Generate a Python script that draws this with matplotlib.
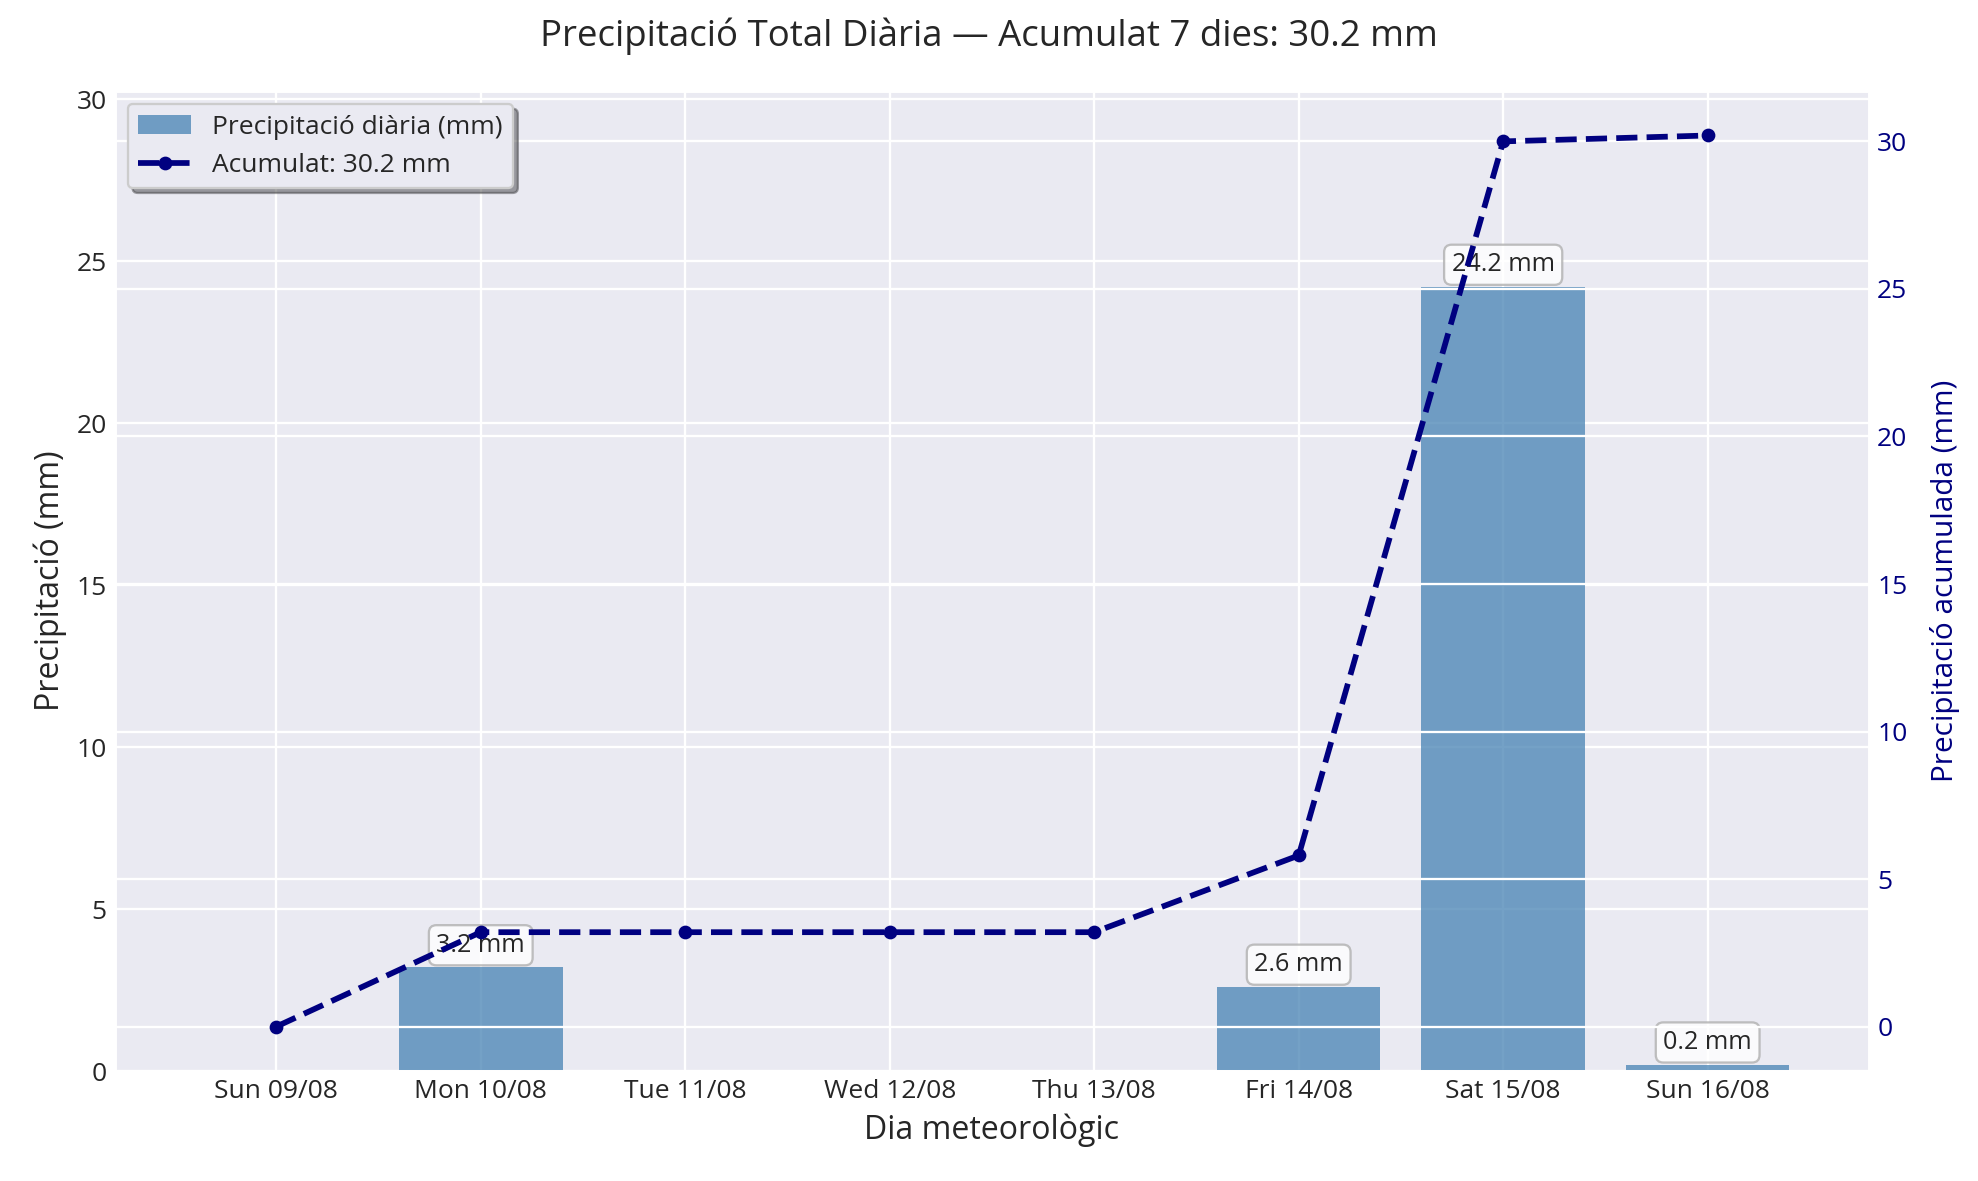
import numpy as np
import matplotlib
matplotlib.use('Agg')
import matplotlib.pyplot as plt
import seaborn as sns

# Daily precipitation over the week
day_labels = ['Sun 09/08', 'Mon 10/08', 'Tue 11/08', 'Wed 12/08',
              'Thu 13/08', 'Fri 14/08', 'Sat 15/08', 'Sun 16/08']
daily_mm = [0.0, 3.2, 0.0, 0.0, 0.0, 2.6, 24.2, 0.2]
cumul_mm = [0.0, 3.2, 3.2, 3.2, 3.2, 5.8, 30.0, 30.2]
total_mm = 30.2

sns.set_theme(style='darkgrid')
plt.rcParams['font.family'] = ['Open Sans', 'DejaVu Sans']

fig, ax1 = plt.subplots(figsize=(1978 / 165, 1181 / 165), dpi=165)
x = np.arange(len(day_labels))

bars = ax1.bar(x, daily_mm, width=0.8, color='steelblue', alpha=0.75,
               linewidth=0, label='Precipitació diària (mm)')
ax1.set_ylim(0, max(daily_mm) * 1.25)
ax1.set_xticks(x)
ax1.set_xticklabels(day_labels, fontsize=11.5)
ax1.tick_params(axis='both', labelsize=11.5, length=0)
ax1.set_xlabel('Dia meteorològic', fontsize=14)
ax1.set_ylabel('Precipitació (mm)', fontsize=14)

for xi, h in zip(x, daily_mm):
    if h > 0:
        ax1.text(xi, h + 0.3, '{:.1f} mm'.format(h), ha='center', va='bottom',
                 fontsize=11,
                 bbox=dict(boxstyle='round,pad=0.3', facecolor='white',
                           alpha=0.8, edgecolor='#b0b0b0'))

ax2 = ax1.twinx()
ax2.plot(x, cumul_mm, color='navy', linestyle='--', linewidth=2.5,
         marker='o', markersize=5, label='Acumulat: {:.1f} mm'.format(total_mm))
ax2.set_ylabel('Precipitació acumulada (mm)', color='navy', fontsize=13,
               labelpad=10)
ax2.tick_params(axis='y', labelcolor='navy', labelsize=11.5, length=0)

h1, l1 = ax1.get_legend_handles_labels()
h2, l2 = ax2.get_legend_handles_labels()
ax2.legend(h1 + h2, l1 + l2, loc='upper left', shadow=True, fancybox=True,
           fontsize=11.5)

fig.suptitle('Precipitació Total Diària — Acumulat 7 dies: {:.1f} mm'.format(total_mm),
             fontsize=16, y=0.985)
fig.subplots_adjust(left=0.058, right=0.945, top=0.923, bottom=0.093)
fig.savefig('out.png', dpi=165)
